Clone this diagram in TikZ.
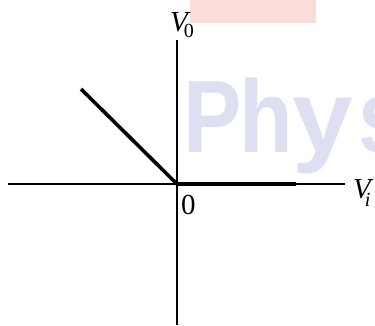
\documentclass[tikz,border=0pt]{standalone}
\usepackage{graphicx}
\usepackage{fontspec}
\setmainfont{Liberation Serif}
\newfontfamily\wmfont{Liberation Sans}
\definecolor{wmblue}{RGB}{222,223,241}
\definecolor{wmpink}{RGB}{251,220,216}
\newcommand{\subtxt}[2][-6pt]{\raisebox{#1}{\fontsize{20}{20}\selectfont #2}}
\begin{document}
\begin{tikzpicture}[x=1pt,y=-1pt,
  axis/.style={line width=1.5pt,black},
  curve/.style={line width=3.6pt,black},
  lbl/.style={inner sep=0pt,font=\fontsize{29}{31}\selectfont}]
\useasboundingbox (0,0) rectangle (375,325);
\begin{scope}
\clip (0,0) rectangle (375,325);
\fill[wmpink] (190,0) rectangle (316,23);
\node[inner sep=0pt,anchor=base west,text=wmblue,xscale=0.85,
  font=\wmfont\bfseries\fontsize{103}{103}\selectfont] (wm) at (183,152)
  {P\kern-2.8pt h\scalebox{1.25}[1]{y}\kern6.2pt sics};
\end{scope}
% axes
\coordinate (xl) at (8,184);
\coordinate (xr) at (345,184);
\coordinate (yt) at (177,40);
\coordinate (yb) at (177,325);
\coordinate (o) at (177,184);
\coordinate (a) at (81,89);
\coordinate (b) at (296,184);
\draw[axis] (xl) -- (xr);
\draw[axis] (yt) -- (yb);
\draw[curve,line join=miter] (a) -- (o) -- (b);
\node[lbl,anchor=base west] (v0) at (170,31) {\itshape V\kern-4pt\upshape\subtxt{0}};
\node[lbl,anchor=base west] (vi) at (353,198) {\itshape V\kern-6pt\subtxt[-8pt]{i}};
\node[lbl,anchor=base west] (zero) at (181,214) {0};
\end{tikzpicture}
\end{document}
